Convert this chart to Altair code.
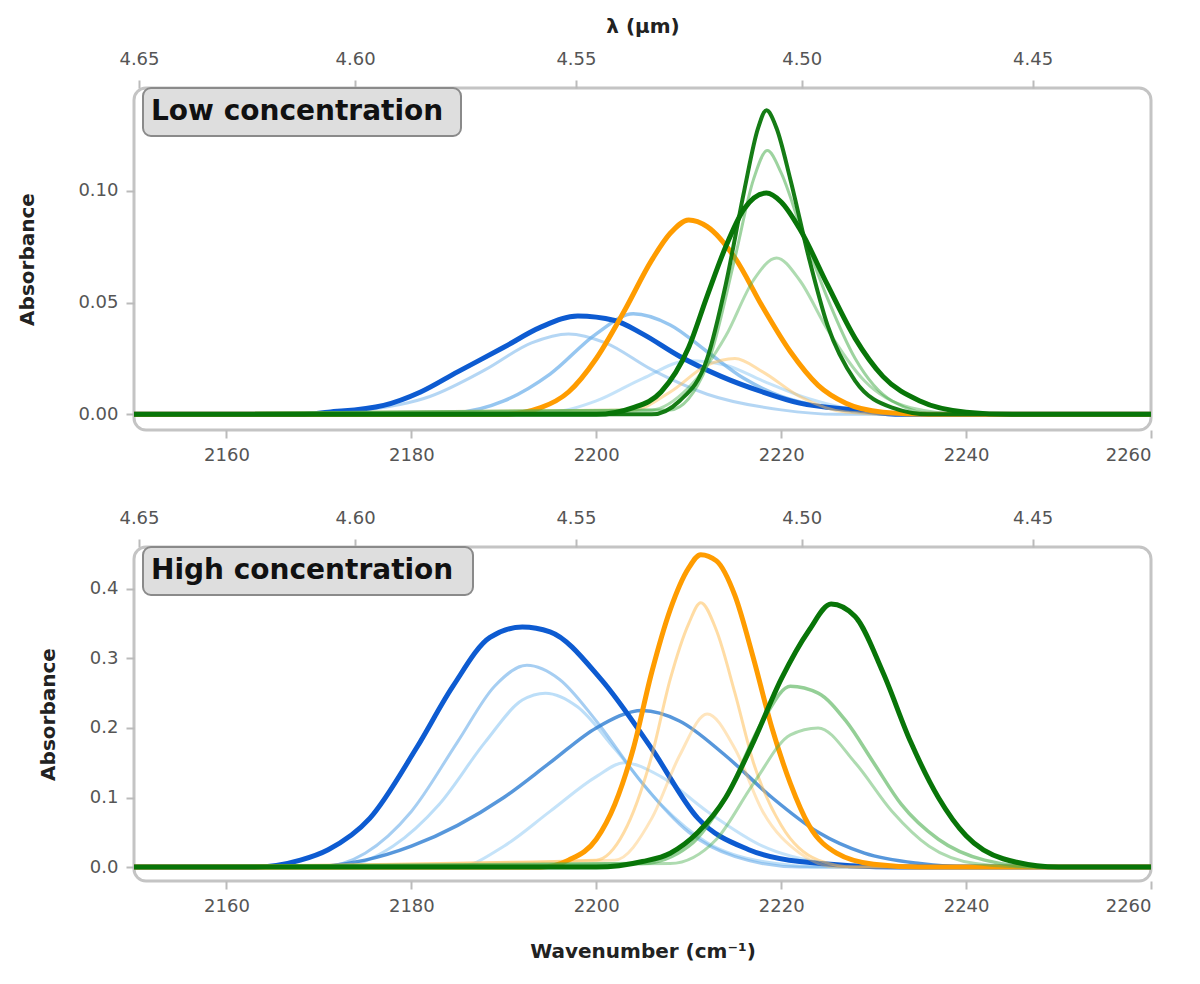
import altair as alt
import pandas as pd

# ---------------- data ----------------
# x: wavenumber (cm^-1), y: absorbance
# ---- Low concentration panel ----
low_blue_main_nu = [2150, 2168, 2171, 2177, 2181, 2185, 2190, 2194, 2198, 2202, 2205, 2209, 2213.5, 2218, 2222, 2228, 2233, 2260]
low_blue_main_a = [0, 0, 0.001, 0.004, 0.010, 0.019, 0.030, 0.039, 0.044, 0.042, 0.036, 0.026, 0.017, 0.010, 0.005, 0.002, 0, 0]
low_blue_l1_nu = [2150, 2185, 2190, 2195, 2200, 2204, 2208, 2212, 2216, 2220, 2225, 2232, 2260]
low_blue_l1_a = [0, 0.001, 0.006, 0.018, 0.036, 0.045, 0.040, 0.028, 0.016, 0.008, 0.003, 0, 0]
low_blue_l2_nu = [2150, 2170, 2175, 2182, 2188, 2193, 2197, 2201, 2206, 2212, 2220, 2226, 2260]
low_blue_l2_a = [0, 0, 0.002, 0.008, 0.020, 0.032, 0.036, 0.032, 0.020, 0.009, 0.002, 0, 0]
low_blue_l3_nu = [2150, 2195, 2200, 2205, 2210, 2214, 2218, 2223, 2230, 2236, 2260]
low_blue_l3_a = [0, 0.001, 0.006, 0.016, 0.024, 0.022, 0.015, 0.007, 0.001, 0, 0]
low_orange_main_nu = [2150, 2190, 2194, 2197, 2200, 2203, 2206, 2208, 2210, 2212, 2215, 2218, 2221, 2224, 2227, 2231, 2236, 2260]
low_orange_main_a = [0, 0, 0.003, 0.010, 0.025, 0.046, 0.069, 0.081, 0.087, 0.084, 0.070, 0.048, 0.028, 0.013, 0.005, 0.001, 0, 0]
low_orange_l1_nu = [2150, 2204, 2208, 2212, 2215, 2218, 2222, 2227, 2232, 2260]
low_orange_l1_a = [0, 0.002, 0.010, 0.022, 0.025, 0.019, 0.008, 0.001, 0, 0]
low_green_top_nu = [2150, 2206, 2209, 2212, 2214, 2216, 2217.5, 2218.4, 2219.5, 2221, 2223, 2225, 2228, 2232, 2236, 2260]
low_green_top_a = [0, 0, 0.006, 0.025, 0.058, 0.100, 0.128, 0.136, 0.128, 0.105, 0.070, 0.040, 0.015, 0.003, 0, 0]
low_green_l1_nu = [2150, 2208, 2212, 2215, 2217, 2218.5, 2220, 2222, 2225, 2228, 2232, 2237, 2260]
low_green_l1_a = [0, 0.002, 0.022, 0.070, 0.105, 0.118, 0.108, 0.085, 0.052, 0.025, 0.006, 0, 0]
low_green_l2_nu = [2150, 2206, 2210, 2214, 2217, 2219.5, 2222, 2225, 2229, 2234, 2240, 2260]
low_green_l2_a = [0, 0.002, 0.012, 0.035, 0.060, 0.070, 0.060, 0.038, 0.015, 0.003, 0, 0]
low_green_main_nu = [2150, 2200, 2204, 2207, 2210, 2212, 2214, 2216, 2218.4, 2220, 2222, 2225, 2228, 2231, 2235, 2240, 2245, 2260]
low_green_main_a = [0, 0, 0.003, 0.010, 0.030, 0.053, 0.075, 0.092, 0.099, 0.095, 0.083, 0.058, 0.034, 0.017, 0.006, 0.001, 0, 0]

# ---- High concentration panel ----
high_blue_main_nu = [2150, 2163, 2168, 2171, 2175.5, 2180.5, 2184.5, 2188.5, 2192, 2195, 2200.5, 2206, 2211, 2216.5, 2222, 2233, 2260]
high_blue_main_a = [0, 0, 0.01, 0.025, 0.07, 0.17, 0.26, 0.33, 0.345, 0.338, 0.27, 0.17, 0.07, 0.025, 0.008, 0, 0]
high_blue_l2_nu = [2150, 2170, 2175, 2180, 2185, 2189, 2192.5, 2196, 2200, 2205, 2210, 2215, 2222, 2260]
high_blue_l2_a = [0, 0, 0.02, 0.08, 0.18, 0.26, 0.29, 0.27, 0.21, 0.12, 0.05, 0.015, 0, 0]
high_blue_l3_nu = [2150, 2172, 2178, 2183, 2188, 2192, 2194.5, 2198, 2202, 2207, 2212, 2218, 2225, 2260]
high_blue_l3_a = [0, 0, 0.03, 0.09, 0.18, 0.24, 0.25, 0.23, 0.17, 0.09, 0.035, 0.008, 0, 0]
high_blue_med_nu = [2150, 2168, 2175, 2180, 2185, 2190, 2195, 2200, 2205, 2209, 2214, 2219, 2224, 2229, 2235, 2240, 2260]
high_blue_med_a = [0, 0, 0.01, 0.03, 0.06, 0.10, 0.15, 0.20, 0.225, 0.21, 0.16, 0.10, 0.05, 0.02, 0.005, 0, 0]
high_blue_l4_nu = [2150, 2185, 2190, 2195, 2200, 2203, 2207, 2212, 2218, 2225, 2230, 2260]
high_blue_l4_a = [0, 0, 0.03, 0.08, 0.13, 0.15, 0.13, 0.08, 0.03, 0.005, 0, 0]
high_orange_main_nu = [2150, 2194, 2197, 2200, 2202, 2204, 2206, 2208, 2210, 2211.3, 2213, 2215, 2217, 2219, 2221, 2223, 2226, 2230, 2235, 2260]
high_orange_main_a = [0, 0, 0.01, 0.04, 0.09, 0.17, 0.28, 0.37, 0.43, 0.449, 0.44, 0.39, 0.30, 0.20, 0.12, 0.06, 0.02, 0.004, 0, 0]
high_orange_l1_nu = [2150, 2200, 2203, 2206, 2208, 2210, 2211.3, 2213, 2215, 2217, 2220, 2224, 2228, 2260]
high_orange_l1_a = [0, 0.01, 0.05, 0.16, 0.27, 0.35, 0.38, 0.34, 0.25, 0.15, 0.06, 0.01, 0, 0]
high_orange_l2_nu = [2150, 2202, 2206, 2209, 2212, 2215, 2218, 2222, 2226, 2260]
high_orange_l2_a = [0, 0.01, 0.07, 0.16, 0.22, 0.17, 0.08, 0.02, 0, 0]
high_green_main_nu = [2150, 2200, 2205, 2208, 2211, 2214, 2217, 2220, 2223, 2225.4, 2228, 2231, 2234, 2237, 2240, 2244, 2250, 2260]
high_green_main_a = [0, 0, 0.008, 0.02, 0.05, 0.10, 0.18, 0.27, 0.34, 0.378, 0.36, 0.28, 0.18, 0.10, 0.045, 0.012, 0, 0]
high_green_l1_nu = [2150, 2205, 2210, 2214, 2218, 2221, 2224, 2227, 2230, 2233, 2237, 2242, 2248, 2260]
high_green_l1_a = [0, 0.005, 0.03, 0.10, 0.21, 0.26, 0.25, 0.21, 0.15, 0.09, 0.04, 0.01, 0, 0]
high_green_l2_nu = [2150, 2208, 2213, 2217, 2221, 2224, 2228, 2232, 2236, 2241, 2246, 2260]
high_green_l2_a = [0, 0.005, 0.04, 0.12, 0.19, 0.20, 0.15, 0.08, 0.03, 0.005, 0, 0]

# axis ticks / labels
x_ticks = [2160, 2180, 2200, 2220, 2240, 2260]
lambda_ticks = [4.65, 4.60, 4.55, 4.50, 4.45]   # micrometres
low_y_ticks = [0.00, 0.05, 0.10]
high_y_ticks = [0.0, 0.1, 0.2, 0.3, 0.4]
panel_labels = ["Low concentration", "High concentration"]

# ---------------- styling ----------------
DARK_BLUE = "#0d5bd1"
MID_BLUE = "#2d7dd2"
LIGHT_BLUE = "#6aaeea"
PALE_BLUE = "#9fd0f5"
ORANGE = "#ff9c00"
LIGHT_ORANGE = "#ffbf5a"
DARK_GREEN = "#087508"
LIGHT_GREEN = "#4caf50"

low_curves = [
    (low_blue_l3_nu, low_blue_l3_a, PALE_BLUE, 3, 0.6),
    (low_blue_l2_nu, low_blue_l2_a, LIGHT_BLUE, 3, 0.5),
    (low_blue_l1_nu, low_blue_l1_a, LIGHT_BLUE, 3.5, 0.7),
    (low_blue_main_nu, low_blue_main_a, DARK_BLUE, 5, 1.0),
    (low_orange_l1_nu, low_orange_l1_a, LIGHT_ORANGE, 3, 0.5),
    (low_orange_main_nu, low_orange_main_a, ORANGE, 5, 1.0),
    (low_green_l2_nu, low_green_l2_a, LIGHT_GREEN, 3, 0.45),
    (low_green_l1_nu, low_green_l1_a, LIGHT_GREEN, 3, 0.55),
    (low_green_top_nu, low_green_top_a, DARK_GREEN, 4, 0.95),
    (low_green_main_nu, low_green_main_a, DARK_GREEN, 5, 1.0),
]
high_curves = [
    (high_blue_l4_nu, high_blue_l4_a, PALE_BLUE, 3, 0.6),
    (high_blue_l3_nu, high_blue_l3_a, PALE_BLUE, 3, 0.7),
    (high_blue_l2_nu, high_blue_l2_a, LIGHT_BLUE, 3, 0.6),
    (high_blue_med_nu, high_blue_med_a, MID_BLUE, 3.5, 0.8),
    (high_blue_main_nu, high_blue_main_a, DARK_BLUE, 5, 1.0),
    (high_orange_l2_nu, high_orange_l2_a, LIGHT_ORANGE, 3, 0.4),
    (high_orange_l1_nu, high_orange_l1_a, LIGHT_ORANGE, 3, 0.55),
    (high_orange_main_nu, high_orange_main_a, ORANGE, 5, 1.0),
    (high_green_l2_nu, high_green_l2_a, LIGHT_GREEN, 3, 0.45),
    (high_green_l1_nu, high_green_l1_a, LIGHT_GREEN, 3.5, 0.6),
    (high_green_main_nu, high_green_main_a, DARK_GREEN, 5, 1.0),
]

X_DOMAIN = [2150, 2260]
W = 1017


def panel(curves, ydomain, yticks, yfmt, height, label, top_title, bottom_title, box_w, ytitle_pad):
    xscale = alt.Scale(domain=X_DOMAIN, nice=False, zero=False)
    yscale = alt.Scale(domain=ydomain, nice=False, zero=False)
    xaxis = alt.Axis(values=x_ticks, format="d", title=bottom_title, orient="bottom",
                     titlePadding=26)
    yaxis = alt.Axis(values=yticks, format=yfmt, title="Absorbance", titlePadding=ytitle_pad)
    layers = []
    for nu, a, col, sw, op in curves:
        df = pd.DataFrame({"nu": nu, "A": a})
        layers.append(
            alt.Chart(df).mark_line(color=col, strokeWidth=sw, opacity=op,
                                    interpolate="monotone", clip=True,
                                    strokeCap="round", strokeJoin="round")
            .encode(x=alt.X("nu:Q", scale=xscale, axis=xaxis),
                    y=alt.Y("A:Q", scale=yscale, axis=yaxis))
        )
    one = pd.DataFrame({"t": [label]})
    layers.append(
        alt.Chart(one).mark_rect(fill="#dedede", stroke="#8a8a8a", strokeWidth=2,
                                 cornerRadius=8)
        .encode(x=alt.value(9), x2=alt.value(9 + box_w), y=alt.value(0), y2=alt.value(48))
    )
    layers.append(
        alt.Chart(one).mark_text(font="DejaVu Sans", fontSize=28, fontWeight="bold",
                                 color="#111", align="left", baseline="middle")
        .encode(x=alt.value(17), y=alt.value(24), text="t:N")
    )
    data_layer = alt.layer(*layers)

    top_vals = [10000.0 / l for l in lambda_ticks]
    top_axis = alt.Axis(values=top_vals, orient="top", labelPadding=12,
                        labelExpr="format(10000 / datum.value, '.2f')",
                        titlePadding=14, **({"title": top_title} if top_title else {"title": None}))
    top_df = pd.DataFrame({"nu": X_DOMAIN, "A": [0, 0]})
    top_layer = alt.Chart(top_df).mark_line(opacity=0).encode(
        x=alt.X("nu:Q", scale=alt.Scale(domain=X_DOMAIN, nice=False, zero=False), axis=top_axis),
        y=alt.Y("A:Q", scale=yscale, axis=yaxis),
    )
    return alt.layer(data_layer, top_layer).resolve_scale(x="independent").properties(
        width=W, height=height)


upper = panel(low_curves, [-0.007, 0.146], low_y_ticks, ".2f", 342, panel_labels[0],
              "λ (μm)", None, 318, 40)
lower = panel(high_curves, [-0.02, 0.46], high_y_ticks, ".1f", 334, panel_labels[1],
              None, "Wavenumber (cm⁻¹)", 330, 31)

chart = alt.vconcat(upper, lower, spacing=41).configure_view(
    stroke="#c4c4c4", strokeWidth=3, cornerRadius=12
).configure_axis(
    domain=False, grid=False, tickColor="#bbbbbb", tickWidth=2, tickSize=8,
    labelColor="#555555", labelFont="DejaVu Sans", labelFontSize=18, labelPadding=8,
    titleFont="DejaVu Sans", titleFontSize=20, titleFontWeight="bold", titleColor="#222222"
).properties(padding={"left": 8, "top": 6, "right": 5, "bottom": 5}, background="white")

chart.save("out.html", embed_options={"renderer": "svg", "actions": False})
